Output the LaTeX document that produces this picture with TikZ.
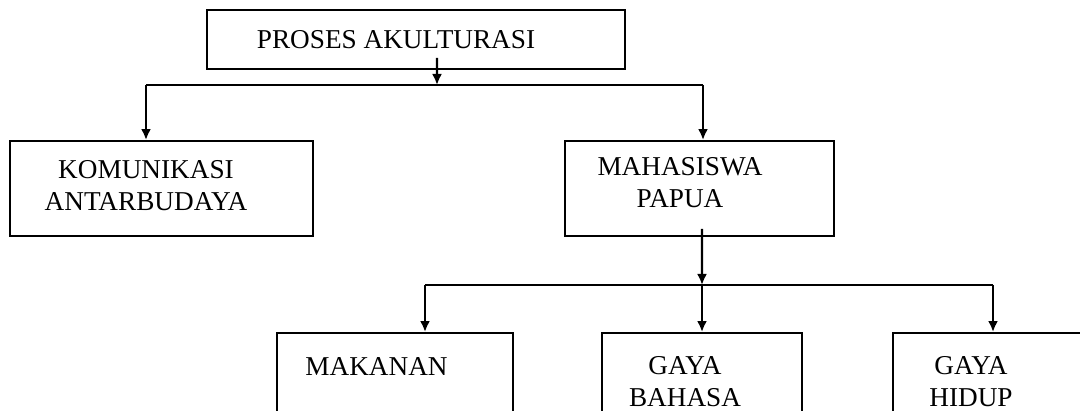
\documentclass[tikz,border=0pt]{standalone}
\usepackage{fontspec}
\setmainfont{Liberation Serif}
\usetikzlibrary{arrows.meta,positioning,calc}

\begin{document}
\begin{tikzpicture}[
    box/.style={draw,line width=1.1pt,rectangle,inner sep=0pt},
    lbl/.style={font=\fontsize{15.5}{18.5}\selectfont,align=center,inner sep=0pt},
    link/.style={line width=1.3pt},
    arr/.style={line width=1.3pt,-{Latex[length=2.2mm,width=2mm]}}
  ]
  \clip (0,0) rectangle (21.6,8.2);

  % boxes
  \node[box,minimum width=8.36cm,minimum height=1.18cm] (akt) at (8.32,7.41) {};
  \node[box,minimum width=6.06cm,minimum height=1.9cm] (kom) at (3.23,4.43) {};
  \node[box,minimum width=5.38cm,minimum height=1.9cm] (mhs) at (13.99,4.43) {};
  \node[box,minimum width=4.72cm,minimum height=2.54cm] (mkn) at (7.9,0.27) {};
  \node[box,minimum width=4.0cm,minimum height=2.54cm] (gbh) at (14.04,0.27) {};
  \node[box,minimum width=4.64cm,minimum height=2.54cm] (ghd) at (20.18,0.27) {};

  % texts
  \node[lbl] (akt-t) at (7.92,7.41) {PROSES AKULTURASI};
  \node[lbl] (kom-t) at (2.92,4.49) {KOMUNIKASI\\ANTARBUDAYA};
  \node[lbl] (mhs-t) at (13.6,4.55) {MAHASISWA\\PAPUA};
  \node[lbl] (mkn-t) at (7.53,0.87) {MAKANAN};
  \node[lbl] (gbh-t) at (13.7,0.57) {GAYA\\BAHASA};
  \node[lbl] (ghd-t) at (19.42,0.57) {GAYA\\HIDUP};

  % upper branch
  \coordinate (j1) at (8.74,6.5);
  \coordinate (j1l) at (2.92,6.5);
  \coordinate (j1r) at (14.06,6.5);
  \draw[arr] ($(akt.south)+(0.42,0.24)$) -- (j1);
  \draw[link] (j1l) -- (j1r);
  \draw[arr] (j1l) -- (j1l |- kom.north);
  \draw[arr] (j1r) -- (j1r |- mhs.north);

  % lower branch
  \coordinate (j2) at (14.04,2.5);
  \coordinate (j2l) at (8.5,2.5);
  \coordinate (j2r) at (19.86,2.5);
  \draw[arr] ($(mhs.south)+(0.05,0.16)$) -- (j2);
  \draw[link] (j2l) -- (j2r);
  \draw[arr] (j2l) -- (j2l |- mkn.north);
  \draw[arr] (j2) -- (j2 |- gbh.north);
  \draw[arr] (j2r) -- (j2r |- ghd.north);
\end{tikzpicture}
\end{document}
